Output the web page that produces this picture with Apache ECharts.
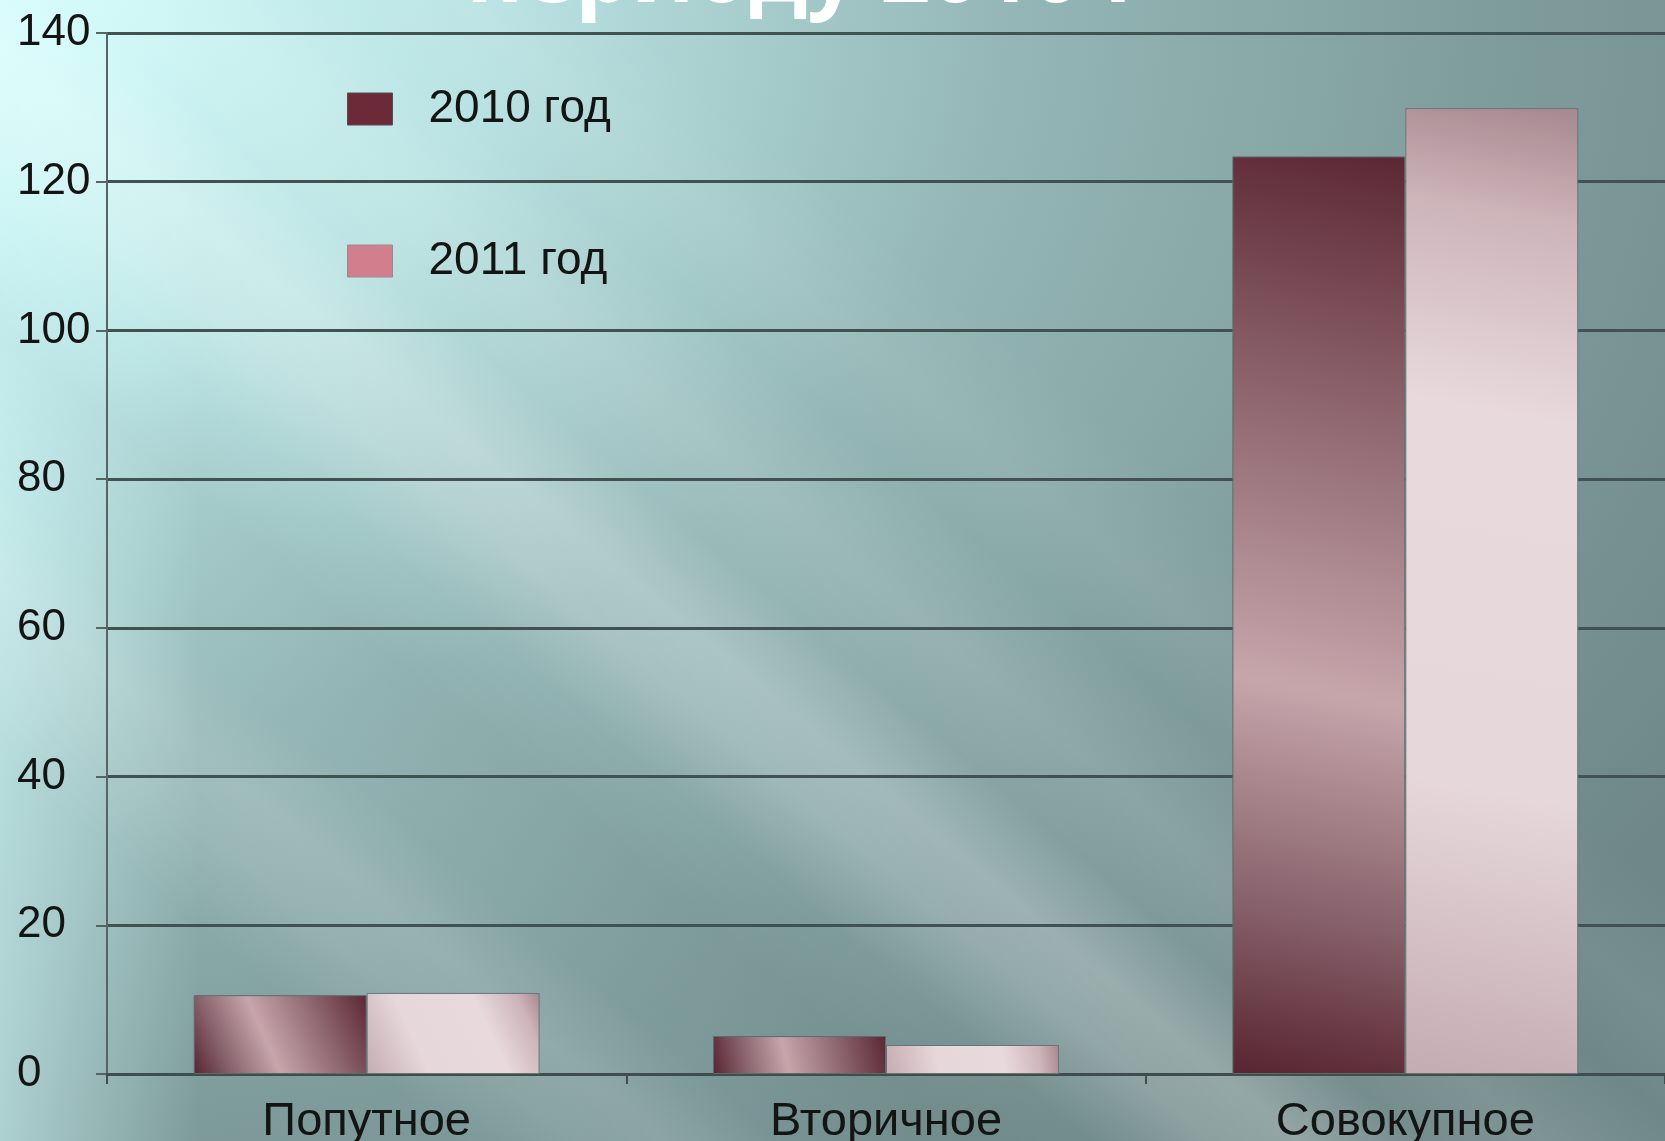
<!DOCTYPE html>
<html>
<head>
<meta charset="utf-8">
<script src="https://cdn.jsdelivr.net/npm/echarts@6/dist/echarts.min.js"></script>
<style>
  html, body { margin: 0; padding: 0; }
  #chart {
    width: 1665px; height: 1141px;
    background:
      linear-gradient(40deg,
        rgba(255,255,255,0) 15%, rgba(255,255,255,0.11) 19%, rgba(255,255,255,0.14) 22%, rgba(255,255,255,0) 26%,
        rgba(0,0,0,0.03) 32%, rgba(255,255,255,0) 36%,
        rgba(255,255,255,0.20) 40%, rgba(255,255,255,0.25) 43%, rgba(255,255,255,0.05) 47%,
        rgba(255,255,255,0.11) 51%, rgba(255,255,255,0) 56%,
        rgba(255,255,255,0.06) 60%, rgba(255,255,255,0) 65%),
      linear-gradient(to right, rgba(212,252,252,0.55) 0%, rgba(212,252,252,0) 12%),
      radial-gradient(ellipse 120% 130% at 0% 0%, #d3fcfc 0%, #b9e2e2 25%, #95b7b7 50%, #7f9c9c 75%, #6f8787 100%);
  }
</style>
</head>
<body>
<div id="chart"></div>
<script>
const categories = ['Попутное', 'Вторичное', 'Совокупное'];
const seriesNames = ['2010 год', '2011 год'];
const values2010 = [10.6, 5.1, 123.4];
const values2011 = [10.9, 3.9, 129.9];
const yTicks = { min: 0, max: 140, interval: 20 };
const titleText = 'периоду 2010 г';

const FONT = '"Liberation Sans", Arial, sans-serif';
const chart = echarts.init(document.getElementById('chart'), null, { renderer: 'canvas' });

const grad2010 = new echarts.graphic.LinearGradient(0, 1, 1, 0, [
  { offset: 0, color: '#582431' },
  { offset: 0.18, color: '#86606a' },
  { offset: 0.42, color: '#c6a5ab' },
  { offset: 0.72, color: '#8e6670' },
  { offset: 1, color: '#5c2734' }
]);
const grad2011 = new echarts.graphic.LinearGradient(0, 1, 1, 0, [
  { offset: 0, color: '#c4acb2' },
  { offset: 0.3, color: '#e6d7da' },
  { offset: 0.68, color: '#e8d9dc' },
  { offset: 0.88, color: '#cdb5ba' },
  { offset: 1, color: '#a8878f' }
]);

chart.setOption({
  animation: false,
  backgroundColor: 'transparent',
  graphic: [{
    type: 'text',
    x: 466, y: -23,
    silent: true,
    style: {
      text: titleText,
      font: 'bold 88px "Open Sans", "Noto Sans", sans-serif',
      fill: '#ffffff',
      align: 'left',
      verticalAlign: 'middle'
    }
  }],
  legend: {
    orient: 'vertical',
    left: 347, top: 86,
    padding: 0,
    itemWidth: 45, itemHeight: 32, itemGap: 106,
    icon: 'rect',
    textStyle: { fontSize: 46, fontFamily: FONT, color: '#141414', lineHeight: 32, padding: [0, 0, 14, 31] },
    data: [
      { name: seriesNames[0], itemStyle: { color: '#6b2a38', borderColor: '#5a4a4e', borderWidth: 1 } },
      { name: seriesNames[1], itemStyle: { color: '#d17f8c', borderColor: '#9a8a8e', borderWidth: 1 } }
    ]
  },
  grid: { left: 107, right: 0, top: 33, bottom: 67, containLabel: false, outerBoundsMode: 'none' },
  xAxis: {
    type: 'category',
    data: categories,
    boundaryGap: true,
    axisLine: { show: true, lineStyle: { color: '#3f4d4d', width: 3 } },
    axisTick: { show: true, length: 10, inside: false, lineStyle: { color: '#3f4d4d', width: 2 } },
    axisLabel: { fontSize: 47, fontFamily: FONT, color: '#141414', margin: 25 },
    splitLine: { show: false }
  },
  yAxis: {
    type: 'value',
    min: yTicks.min, max: yTicks.max, interval: yTicks.interval,
    axisLine: { show: true, lineStyle: { color: '#566464', width: 2 } },
    axisTick: { show: true, length: 11, inside: false, lineStyle: { color: '#566464', width: 2 } },
    axisLabel: { fontSize: 44, fontFamily: FONT, color: '#141414', align: 'left', margin: 90 },
    splitLine: { show: true, lineStyle: { color: '#425252', width: 3 } }
  },
  series: [
    {
      name: seriesNames[0], type: 'bar', data: values2010,
      barWidth: '33.3%', barGap: '0%',
      itemStyle: { color: grad2010, borderColor: '#5f6a6a', borderWidth: 1 }
    },
    {
      name: seriesNames[1], type: 'bar', data: values2011,
      barWidth: '33.3%', barGap: '0%',
      itemStyle: { color: grad2011, borderColor: '#6a7676', borderWidth: 1 }
    }
  ]
});
</script>
</body>
</html>
